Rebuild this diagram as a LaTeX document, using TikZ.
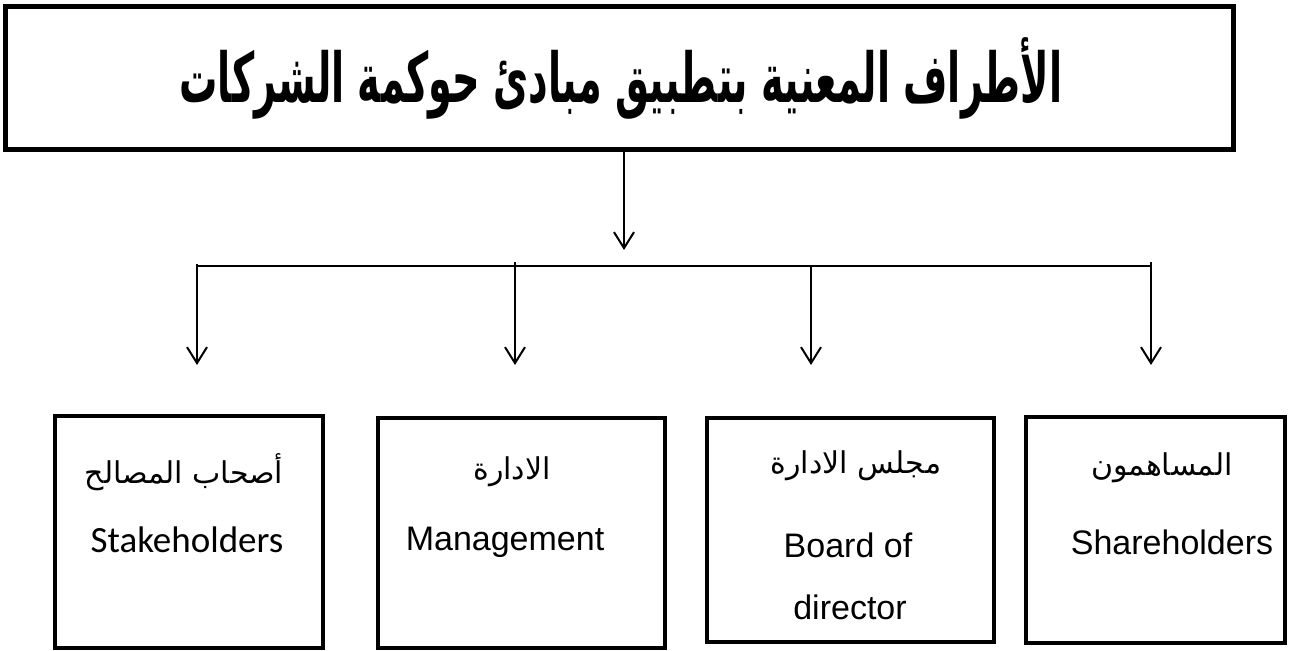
\documentclass[tikz,border=0pt]{standalone}
\usepackage{fontspec}
\usepackage{graphicx}
\setmainfont{Liberation Sans}
\newfontfamily\arabicfont[Script=Arabic]{DejaVu Sans}
\newfontfamily\calib{Carlito}
\TeXXeTstate=1
\usetikzlibrary{arrows.meta}
\begin{document}
\begin{tikzpicture}[x=1pt,y=-1pt,
  topbox/.style={draw, line width=5pt, minimum width=1227.5pt, minimum height=142pt, inner sep=0pt},
  partbox/.style={draw, line width=4.5pt, inner sep=0pt},
  conn/.style={line width=2pt},
  arr/.style={line width=2pt, -{Straight Barb[length=16pt,width=20pt]}},
  arlab/.style={inner sep=0pt, font=\arabicfont\fontsize{30}{34}\selectfont},
  enlab/.style={inner sep=0pt, font=\fontsize{34}{40}\selectfont}
]
\useasboundingbox (0,0) rectangle (1289,650);
\fill[white] (0,0) rectangle (1289,650);

\node[topbox] (top) at (619.25,78) {};
\node[inner sep=0pt] (title) at (621,78) {\scalebox{1}[1.8]{\resizebox{883pt}{!}{\arabicfont\bfseries\beginR الأطراف المعنية بتطبيق مبادئ حوكمة الشركات\endR}}};

\coordinate (hubtip) at (624,250);
\draw[arr] (top.south -| hubtip) -- (hubtip);

\coordinate (hl) at (197,266);
\coordinate (hr) at (1151,266);
\draw[conn] (hl) -- (hr);

\coordinate (t1top) at (197,264);
\coordinate (t2top) at (515,262);
\coordinate (t3top) at (811,266);
\coordinate (t4top) at (1151,262);
\coordinate (t1tip) at (197,365);
\coordinate (t2tip) at (515,365);
\coordinate (t3tip) at (811,365);
\coordinate (t4tip) at (1151,365);
\draw[arr] (t1top) -- (t1tip);
\draw[arr] (t2top) -- (t2tip);
\draw[arr] (t3top) -- (t3tip);
\draw[arr] (t4top) -- (t4tip);

\node[partbox, minimum width=268pt, minimum height=232pt] (b1) at (189,532) {};
\node[partbox, minimum width=287pt, minimum height=230pt] (b2) at (521.5,533) {};
\node[partbox, minimum width=287pt, minimum height=224pt] (b3) at (850.5,530) {};
\node[partbox, minimum width=259pt, minimum height=226pt] (b4) at (1155.5,530) {};

\node[arlab] (b1ar) at (184,472) {\beginR أصحاب المصالح\endR};
\node[enlab, font=\calib\fontsize{37}{42}\selectfont] (b1en) at (187,540) {Stakeholders};

\node[arlab] (b2ar) at (512,472) {\beginR الادارة\endR};
\node[enlab] (b2en) at (505,542) {Management};

\node[arlab] (b3ar) at (856,466) {\beginR مجلس الادارة\endR};
\node[enlab] (b3en1) at (848,545) {Board of};
\node[enlab] (b3en2) at (850,607) {director};

\node[arlab] (b4ar) at (1162,468) {\beginR المساهمون\endR};
\node[enlab] (b4en) at (1172,542) {Shareholders};
\end{tikzpicture}
\end{document}
